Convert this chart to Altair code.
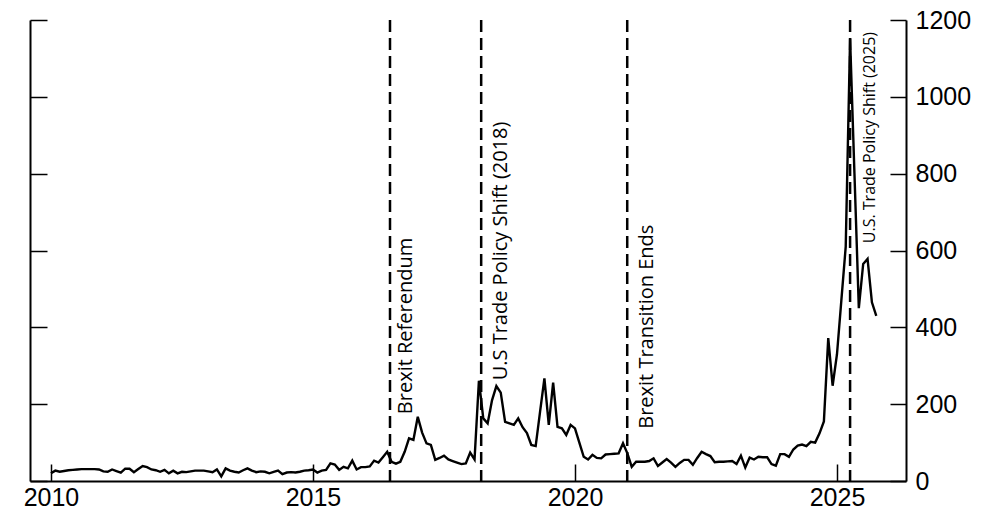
import altair as alt
import pandas as pd

# Monthly index values, Jan 2010 - Oct 2025
v2010 = [20, 27, 24, 26, 28, 29, 30, 31, 31, 31, 31, 30]
v2011 = [25, 24, 30, 26, 22, 32, 32, 23, 31, 39, 36, 30]
v2012 = [28, 24, 29, 20, 27, 20, 24, 23, 25, 27, 27, 27]
v2013 = [25, 23, 30, 12, 33, 27, 24, 22, 28, 33, 27, 23]
v2014 = [25, 24, 20, 24, 27, 18, 22, 23, 22, 24, 27, 28]
v2015 = [30, 22, 27, 29, 46, 43, 29, 37, 33, 53, 30, 36]
v2016 = [36, 38, 53, 48, 62, 76, 50, 45, 50, 76, 111, 107]
v2017 = [167, 126, 98, 94, 55, 60, 66, 56, 52, 48, 44, 46]
v2018 = [74, 56, 261, 163, 150, 210, 247, 230, 154, 150, 146, 163]
v2019 = [140, 125, 94, 91, 180, 267, 146, 256, 141, 137, 120, 146]
v2020 = [137, 100, 63, 56, 68, 60, 59, 69, 70, 71, 72, 98]
v2021 = [72, 37, 50, 50, 50, 52, 59, 39, 48, 57, 48, 37]
v2022 = [47, 55, 55, 42, 60, 76, 70, 65, 49, 50, 50, 51]
v2023 = [52, 44, 66, 35, 61, 56, 63, 62, 62, 44, 40, 70]
v2024 = [70, 63, 82, 92, 95, 91, 102, 100, 124, 155, 372, 248]
v2025 = [330, 470, 610, 1152, 800, 450, 565, 578, 465, 430]

yearly = [v2010, v2011, v2012, v2013, v2014, v2015, v2016, v2017,
          v2018, v2019, v2020, v2021, v2022, v2023, v2024, v2025]
values = [v for year in yearly for v in year]
times = [2010 + i / 12 for i in range(len(values))]
df = pd.DataFrame({"t": times, "v": values})

event_labels = ["Brexit Referendum", "U.S Trade Policy Shift (2018)",
                "Brexit Transition Ends", "U.S. Trade Policy Shift (2025)"]
event_times = [2016.47, 2018.21, 2020.997, 2025.25]
label_starts = [174, 262, 136, 619]
ev = pd.DataFrame({"t": event_times, "label": event_labels, "ly": label_starts})

x_ticks = [2010, 2015, 2020, 2025]
y_ticks = [0, 200, 400, 600, 800, 1000, 1200]

xs = alt.Scale(domain=[2009.6, 2026.317], nice=False, zero=False)
ys = alt.Scale(domain=[0, 1200], nice=False)

common = dict(grid=False, domainColor="black", domainWidth=2, tickColor="black",
              tickWidth=1.5, labelColor="black", labelFont="Liberation Sans",
              labelFontSize=25, title=None, labelFlush=False, labelOverlap=False)

x_axis = alt.Axis(orient="bottom", values=x_ticks, format="d",
                  tickSize=alt.ExprRef(expr="-17"), labelPadding=21, **common)
right_axis = alt.Axis(orient="right", values=y_ticks, format="d",
                      tickSize=alt.ExprRef(expr="-16"), labelPadding=25, **common)
left_axis = alt.Axis(orient="left", values=y_ticks, labels=False,
                     tickSize=alt.ExprRef(expr="-17"), **common)

X = alt.X("t:Q", scale=xs, axis=x_axis)

line = alt.Chart(df).mark_line(color="black", strokeWidth=2.4).encode(
    x=X,
    y=alt.Y("v:Q", scale=ys, axis=right_axis),
)

rules = alt.Chart(ev).mark_rule(color="black", strokeWidth=2.5, strokeDash=[12, 6]).encode(
    x=X,
)


def label_layer(i, size, dy, axis):
    return alt.Chart(ev).transform_filter(
        alt.datum.label == event_labels[i]
    ).mark_text(angle=270, align="left", baseline="alphabetic", dy=dy,
                fontSize=size, font="Open Sans", color="black").encode(
        x=X,
        y=alt.Y("ly:Q", scale=ys, axis=axis),
        text="label:N",
    )


t1 = label_layer(0, 20, 22, left_axis)
t2 = label_layer(1, 20, 26, None)
t3 = label_layer(2, 20, 26, None)
t4 = label_layer(3, 16, 25, None)

chart = alt.layer(line, rules, t1, t2, t3, t4).resolve_scale(
    x="shared", y="shared"
).resolve_axis(
    x="shared", y="independent"
).properties(
    width=876, height=461,
    padding={"left": 22, "top": 12, "right": 76, "bottom": 26},
    autosize=alt.AutoSizeParams(type="none"),
    background="white",
).configure_view(strokeWidth=0)

chart.save("out.html", embed_options={"renderer": "svg", "actions": False})
